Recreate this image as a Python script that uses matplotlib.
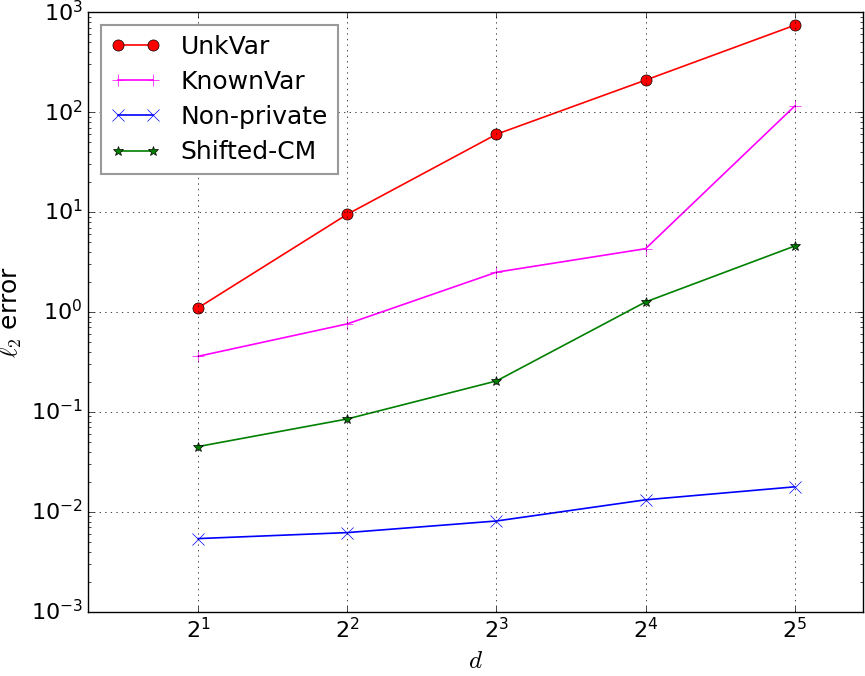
import matplotlib
matplotlib.use("Agg")
import matplotlib.pyplot as plt

plt.style.use('classic')

d = [2, 4, 8, 16, 32]
unkvar = [1.1, 9.5, 60, 209, 740]
knownvar = [0.36, 0.76, 2.5, 4.3, 115]
nonprivate = [0.0054, 0.0062, 0.0081, 0.0132, 0.0178]
shifted_cm = [0.045, 0.085, 0.204, 1.26, 4.57]

fig = plt.figure(figsize=(8.65, 6.76), dpi=100, facecolor='white')
ax = fig.add_axes([0.102, 0.095, 0.896, 0.887])

ax.plot(d, unkvar, 'o-', color='red', markersize=8, lw=1.2, label='UnkVar')
ax.plot(d, knownvar, '+-', color='#ff00ff', markersize=8, lw=1.2, label='KnownVar')
ax.plot(d, nonprivate, 'x-', color='blue', markersize=8, lw=1.2, label='Non-private')
ax.plot(d, shifted_cm, '*-', color='green', markersize=7, lw=1.2, label='Shifted-CM')

ax.set_xscale('log', base=2)
ax.set_yscale('log')
ax.set_xlim(1.2, 44)
ax.set_ylim(1e-3, 1e3)
ax.set_xticks(d)
ax.grid(True)
ax.tick_params(labelsize=16)
ax.set_xlabel(r'$d$', fontsize=18)
ax.set_ylabel(r'$\ell_2$ error', fontsize=18)
leg = ax.legend(loc='upper left', fontsize=18, numpoints=2,
                borderaxespad=0.5, labelspacing=0.45)
leg.get_frame().set_edgecolor('#999999')
leg.get_frame().set_linewidth(1.5)

fig.savefig('out.png', dpi=100, facecolor='white')
